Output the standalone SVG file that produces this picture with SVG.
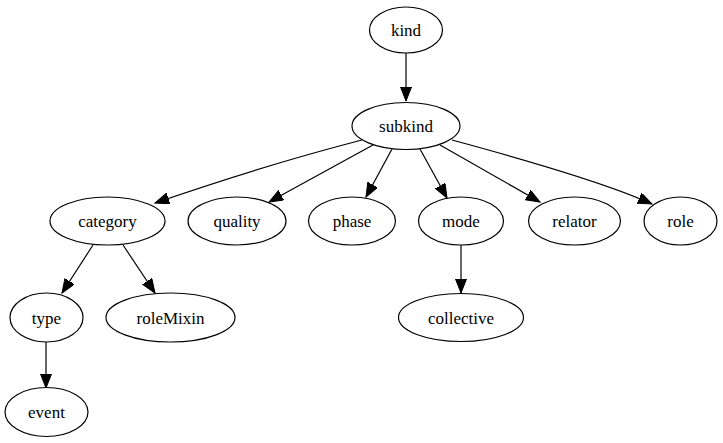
<svg xmlns="http://www.w3.org/2000/svg" width="723" height="443" viewBox="0 0 723 443">
<style>
.node ellipse{fill:none;stroke:#000;stroke-width:1.2}
.node text{font-family:'Liberation Serif','DejaVu Serif',serif;font-size:17px;text-anchor:middle;fill:#000}
.edge{fill:none;stroke:#000;stroke-width:1.2;marker-end:url(#arr)}
</style>
<defs>
<marker id="arr" markerUnits="userSpaceOnUse" markerWidth="15" markerHeight="12" refX="14" refY="5.5" orient="auto">
<path d="M0,0 L14,5.5 L0,11 z" fill="#000" stroke="#000" stroke-width="1"/>
</marker>
</defs>
<rect width="723" height="443" fill="#fff"/>
<g id="connectors">
<path class="edge" d="M406,53 L406,101"/>
<path class="edge" d="M362,140 Q265,165 155,203"/>
<path class="edge" d="M373,145 L269,202"/>
<path class="edge" d="M392,149 L366,197"/>
<path class="edge" d="M420,149 L447,198"/>
<path class="edge" d="M440,145 L540,202"/>
<path class="edge" d="M452,140 Q600,180 652,204"/>
<path class="edge" d="M93,245 L62,293"/>
<path class="edge" d="M123,245 L155,293"/>
<path class="edge" d="M46,342 L46,388"/>
<path class="edge" d="M461,245 L461,293"/>
</g>
<g id="kind" class="node"><ellipse cx="406" cy="30" rx="36.5" ry="23"/><text x="406" y="36">kind</text></g>
<g id="subkind" class="node"><ellipse cx="406" cy="126" rx="54" ry="23.5"/><text x="406" y="132">subkind</text></g>
<g id="category" class="node"><ellipse cx="107.5" cy="221" rx="57.5" ry="24"/><text x="107.5" y="227">category</text></g>
<g id="quality" class="node"><ellipse cx="237" cy="221" rx="49" ry="24"/><text x="237" y="227">quality</text></g>
<g id="phase" class="node"><ellipse cx="352" cy="221" rx="43.5" ry="24"/><text x="352" y="227">phase</text></g>
<g id="mode" class="node"><ellipse cx="461" cy="221" rx="42.5" ry="24"/><text x="461" y="227">mode</text></g>
<g id="relator" class="node"><ellipse cx="574.5" cy="221" rx="46" ry="24"/><text x="574.5" y="227">relator</text></g>
<g id="role" class="node"><ellipse cx="680.5" cy="221" rx="36.5" ry="24"/><text x="680.5" y="227">role</text></g>
<g id="type" class="node"><ellipse cx="46.5" cy="317.5" rx="36.5" ry="24.5"/><text x="46.5" y="324">type</text></g>
<g id="roleMixin" class="node"><ellipse cx="170.5" cy="317.5" rx="64.5" ry="24.5"/><text x="170.5" y="324">roleMixin</text></g>
<g id="collective" class="node"><ellipse cx="461" cy="317.5" rx="62.5" ry="24"/><text x="461" y="324">collective</text></g>
<g id="event" class="node"><ellipse cx="46.5" cy="412" rx="41.5" ry="24.5"/><text x="46.5" y="418">event</text></g>
</svg>
